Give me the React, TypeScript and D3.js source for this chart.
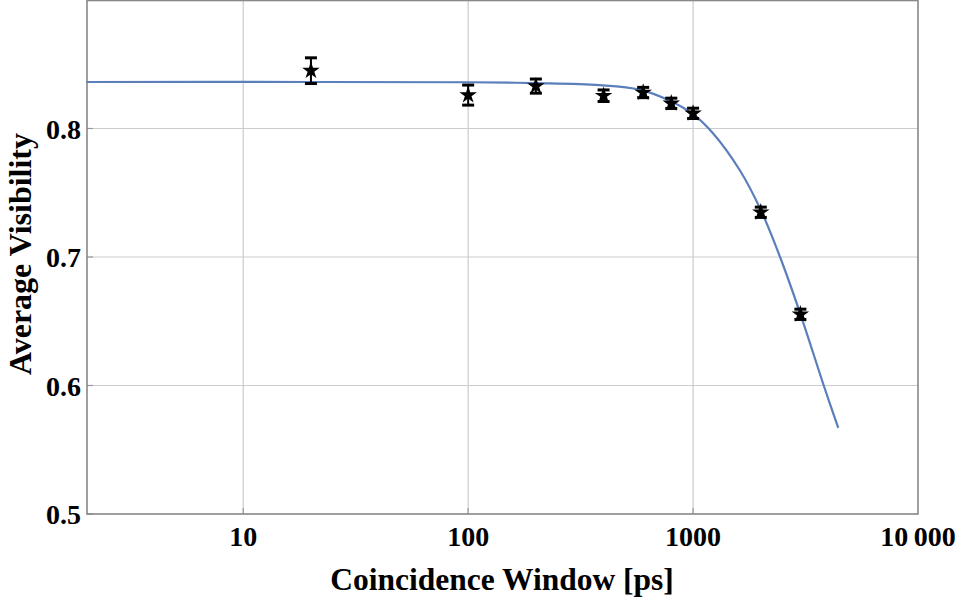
import React from "react";
import * as d3 from "d3";

// Measured points
const windows = [20, 100, 200, 400, 600, 800, 1000, 2000, 3000];
const visibility = [0.845, 0.826, 0.833, 0.8255, 0.828, 0.8196, 0.8118, 0.7348, 0.6554];
const errors = [0.01, 0.0078, 0.0055, 0.0045, 0.004, 0.004, 0.004, 0.004, 0.004];

// Fitted curve
const curveX = [2, 20, 100, 200, 384, 578, 787, 1000, 1223, 1611, 2000, 2436, 3000, 3810, 4420];
const curveY = [0.8362, 0.8362, 0.836, 0.8353, 0.8337, 0.8302, 0.8216, 0.8112, 0.7965, 0.7677, 0.7366, 0.7, 0.6556, 0.6, 0.567];

// Ticks
const xTicks = [10, 100, 1000, 10000];
const xTickLabels = ["10", "100", "1000", "10\u2009000"];
const xGrid = [10, 100, 1000];
const yTicks = [0.5, 0.6, 0.7, 0.8];
const yGrid = [0.6, 0.7, 0.8];

const W = 960;
const H = 599;
const M = { left: 87, right: 918, top: 0.5, bottom: 514 };
const FONT = "'Liberation Serif', 'Times New Roman', serif";

export default function App() {
  const x = d3.scaleLog().domain([2.02, 10000]).range([M.left, M.right]);
  const y = d3.scaleLinear().domain([0.5, 0.9]).range([M.bottom, M.bottom - 0.4 * 1285]);

  const line = d3
    .line<number>()
    .x((_, i) => x(curveX[i]))
    .y((d) => y(d))
    .curve(d3.curveCatmullRom.alpha(0.5));

  const star = d3.symbol().type(d3.symbolStar).size(95)();

  return (
    <svg
      width={W}
      height={H}
      style={{ position: "absolute", left: 0, top: 0, background: "#fff" }}
      fontFamily={FONT}
    >
      {/* grid */}
      {xGrid.map((t) => (
        <line key={"gx" + t} x1={x(t)} x2={x(t)} y1={M.top} y2={M.bottom} stroke="#cccccc" strokeWidth={1.2} />
      ))}
      {yGrid.map((t) => (
        <line key={"gy" + t} x1={M.left} x2={M.right} y1={y(t)} y2={y(t)} stroke="#cccccc" strokeWidth={1.2} />
      ))}

      {/* ticks */}
      {yTicks.map((t) => (
        <line key={"ty" + t} x1={M.left} x2={M.left + 6} y1={y(t)} y2={y(t)} stroke="#999" strokeWidth={1.2} />
      ))}
      {xGrid.map((t) => (
        <line key={"tx" + t} x1={x(t)} x2={x(t)} y1={M.bottom} y2={M.bottom - 6} stroke="#999" strokeWidth={1.2} />
      ))}

      {/* fitted curve */}
      <path d={line(curveY) || ""} fill="none" stroke="#5b7fbb" strokeWidth={2.2} />

      {/* error bars and markers */}
      {windows.map((w, i) => {
        const cx = x(w);
        const y0 = y(visibility[i] - errors[i]);
        const y1 = y(visibility[i] + errors[i]);
        return (
          <g key={"p" + w}>
            <line x1={cx} x2={cx} y1={y0} y2={y1} stroke="#000" strokeWidth={2} />
            <line x1={cx - 6} x2={cx + 6} y1={y0} y2={y0} stroke="#000" strokeWidth={3} />
            <line x1={cx - 6} x2={cx + 6} y1={y1} y2={y1} stroke="#000" strokeWidth={3} />
            <path d={star || ""} transform={`translate(${cx},${y(visibility[i])})`} fill="#000" />
          </g>
        );
      })}

      {/* frame */}
      <rect
        x={M.left}
        y={M.top}
        width={M.right - M.left}
        height={M.bottom - M.top}
        fill="none"
        stroke="#888"
        strokeWidth={1.6}
      />

      {/* y tick labels */}
      {yTicks.map((t) => (
        <text
          key={"ly" + t}
          x={M.left - 6}
          y={y(t) + 10}
          textAnchor="end"
          fontSize={28}
          fontWeight="bold"
          fill="#000"
        >
          {d3.format(".1f")(t)}
        </text>
      ))}

      {/* x tick labels */}
      {xTicks.map((t, i) => (
        <text
          key={"lx" + t}
          x={x(t)}
          y={546}
          textAnchor="middle"
          fontSize={28}
          fontWeight="bold"
          fill="#000"
        >
          {xTickLabels[i]}
        </text>
      ))}

      {/* axis titles */}
      <text x={502} y={590} textAnchor="middle" fontSize={31.5} fontWeight="bold" fill="#000">
        Coincidence Window [ps]
      </text>
      <text
        transform={`translate(31,254) rotate(-90)`}
        textAnchor="middle"
        fontSize={32}
        fontWeight="bold"
        fill="#000"
      >
        Average Visibility
      </text>
    </svg>
  );
}
